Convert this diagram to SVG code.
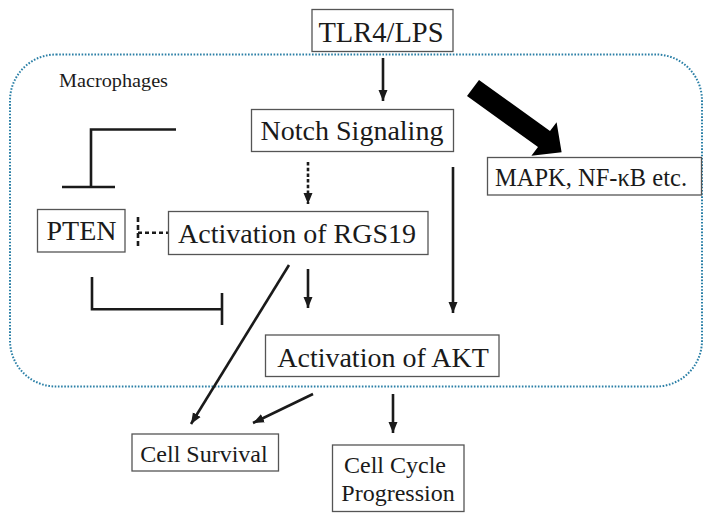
<svg xmlns="http://www.w3.org/2000/svg" width="714" height="522" viewBox="0 0 714 522" font-family="Liberation Serif, DejaVu Serif, serif">
<style>
.box{fill:#fff;stroke:#555;stroke-width:1.3}
.t{fill:#1a1a1a;text-anchor:middle}
.ln{fill:none;stroke:#1a1a1a;stroke-width:2.6}
</style>
<defs>
<marker id="ah" markerUnits="userSpaceOnUse" markerWidth="12" markerHeight="12" viewBox="0 0 12 12" refX="11" refY="6" orient="auto">
<path d="M0,1.5 L11,6 L0,10.5 Z" fill="#1a1a1a"/>
</marker>
</defs>
<rect x="10" y="54.5" width="692" height="332" rx="46" ry="46" fill="none" stroke="#2a7fa6" stroke-width="2" stroke-dasharray="1.6,1.6"/>
<text class="t" x="59" y="87" font-size="18" font-family="Liberation Serif" text-anchor="start" style="text-anchor:start" textLength="109" lengthAdjust="spacingAndGlyphs">Macrophages</text>
<g id="connectors">
<line class="ln" x1="383" y1="58" x2="383" y2="101" marker-end="url(#ah)"/>
<polygon points="479,80 550,131 556.6,122.2 561.6,152.2 531.4,155.8 538,147 467,96" fill="#000"/>
<path class="ln" d="M176,129.5 H91 V187"/>
<line class="ln" x1="62" y1="187" x2="115" y2="187"/>
<line class="ln" x1="308" y1="162" x2="308" y2="204" stroke-dasharray="3.5,2.2" stroke-width="3" marker-end="url(#ah)"/>
<line class="ln" x1="138" y1="232.7" x2="168" y2="232.7" stroke-width="2" stroke-dasharray="4,3"/>
<line class="ln" x1="138" y1="217" x2="138" y2="249" stroke-width="2.4" stroke-dasharray="5,3"/>
<line class="ln" x1="453" y1="167" x2="453" y2="313" marker-end="url(#ah)"/>
<path class="ln" d="M92,277 V309.3 H222"/>
<line class="ln" x1="222" y1="293" x2="222" y2="325"/>
<line class="ln" x1="308" y1="269" x2="308" y2="308" marker-end="url(#ah)"/>
<line class="ln" x1="289" y1="265" x2="191" y2="424" marker-end="url(#ah)"/>
<line class="ln" x1="313" y1="394" x2="253" y2="423" marker-end="url(#ah)"/>
<line class="ln" x1="393" y1="394" x2="393" y2="433" marker-end="url(#ah)"/>
</g>
<g id="tlr4">
<rect class="box" x="312" y="9.5" width="141" height="42"/>
<text class="t" x="381" y="41.7" font-size="28.5" font-family="Liberation Serif">TLR4/LPS</text>
</g>
<g id="notch">
<rect class="box" x="251.5" y="109.5" width="202" height="42"/>
<text class="t" x="352" y="140" font-size="28" font-family="Liberation Serif">Notch Signaling</text>
</g>
<g id="mapk">
<rect class="box" x="487.5" y="157.5" width="214" height="37.5"/>
<text class="t" x="591" y="186" font-size="24.5" font-family="Liberation Serif">MAPK, NF-κB etc.</text>
</g>
<g id="pten">
<rect class="box" x="37.5" y="209.5" width="87.5" height="42.5"/>
<text class="t" x="81.5" y="240" font-size="28" font-family="Liberation Serif">PTEN</text>
</g>
<g id="rgs19">
<rect class="box" x="168.5" y="211.5" width="259.5" height="43"/>
<text class="t" x="297" y="243" font-size="28" font-family="Liberation Serif">Activation of RGS19</text>
</g>
<g id="akt">
<rect class="box" x="265.5" y="335" width="233.5" height="41.5"/>
<text class="t" x="383" y="366.5" font-size="28" font-family="Liberation Serif">Activation of AKT</text>
</g>
<g id="survival">
<rect class="box" x="132" y="434" width="146.5" height="37"/>
<text class="t" x="204" y="461.7" font-size="24" font-family="Liberation Serif">Cell Survival</text>
</g>
<g id="cellcycle">
<rect class="box" x="332.5" y="445" width="131.5" height="66.5"/>
<text class="t" x="395" y="472.7" font-size="24" font-family="Liberation Serif">Cell Cycle</text>
<text class="t" x="398" y="500.7" font-size="24" font-family="Liberation Serif">Progression</text>
</g>
</svg>
